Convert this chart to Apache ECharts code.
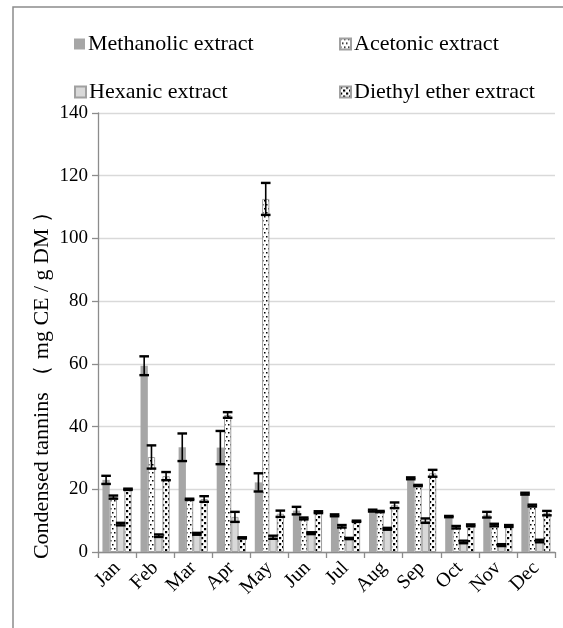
<!DOCTYPE html>
<html>
<head>
<meta charset="utf-8">
<script src="https://cdn.jsdelivr.net/npm/echarts@6/dist/echarts.min.js"></script>
<style>html,body{margin:0;padding:0;background:#fff}#c{width:563px;height:628px}</style>
</head>
<body>
<div id="c"></div>
<script>
var months = ['Jan','Feb','Mar','Apr','May','Jun','Jul','Aug','Sep','Oct','Nov','Dec'];
var seriesNames = ['Methanolic extract','Acetonic extract','Hexanic extract','Diethyl ether extract'];
var methanolic    = [23.0, 59.4, 33.4, 33.3, 22.2, 13.2, 11.7, 13.2, 23.5, 11.3, 11.9, 18.6];
var methanolicErr = [1.3, 3.0, 4.4, 5.3, 2.9, 1.2, 0.3, 0.3, 0.3, 0.2, 0.9, 0.3];
var acetonic      = [17.5, 30.3, 16.8, 43.7, 112.6, 10.7, 8.2, 12.9, 21.2, 7.9, 8.6, 14.8];
var acetonicErr   = [0.5, 3.7, 0.2, 0.9, 5.1, 0.3, 0.4, 0.2, 0.2, 0.4, 0.4, 0.3];
var hexanic       = [8.9, 5.2, 5.8, 11.2, 4.7, 6.0, 4.3, 7.4, 10.0, 3.2, 2.2, 3.5];
var hexanicErr    = [0.4, 0.4, 0.3, 1.6, 0.5, 0.3, 0.2, 0.3, 0.7, 0.4, 0.3, 0.4];
var diethyl       = [20.0, 24.2, 16.9, 4.5, 12.2, 12.7, 9.8, 14.9, 25.1, 8.5, 8.3, 12.4];
var diethylErr    = [0.2, 1.3, 0.9, 0.2, 1.0, 0.3, 0.2, 0.9, 1.1, 0.3, 0.3, 0.7];
var yTicks = [0, 20, 40, 60, 80, 100, 120, 140];

var values = [methanolic, acetonic, hexanic, diethyl];
var errors = [methanolicErr, acetonicErr, hexanicErr, diethylErr];

function makePattern(w, h, dots, size, bg) {
  var c = document.createElement('canvas');
  c.width = w; c.height = h;
  var ctx = c.getContext('2d');
  ctx.fillStyle = bg; ctx.fillRect(0, 0, w, h);
  ctx.fillStyle = '#000';
  dots.forEach(function (d) { ctx.fillRect(d[0], d[1], size, size); });
  return {image: c, repeat: 'repeat'};
}
var acetPat = makePattern(4, 8, [[0,0],[2,4]], 1.5, '#ffffff');
var dietPat = makePattern(6, 6, [[0,0],[3,3]], 2.2, '#ffffff');

var fills = ['#a6a6a6', acetPat, '#d9d9d9', dietPat];
var borders = [null, '#a0a0a0', '#a0a0a0', '#a0a0a0'];
var serif = '"Liberation Serif", "Times New Roman", serif';
var BW = 7.3;

var series = [];
seriesNames.forEach(function (n, i) {
  series.push({
    name: n, type: 'bar', barWidth: BW, barGap: '0%',
    data: values[i],
    itemStyle: {color: fills[i], borderColor: borders[i] || 'transparent', borderWidth: borders[i] ? 1 : 0},
    emphasis: {disabled: true}, z: 2
  });
});
seriesNames.forEach(function (n, i) {
  var off = (i - 1.5) * BW;
  series.push({
    name: 'err' + i, type: 'custom', z: 5, silent: true,
    data: values[i].map(function (v, k) { return [k, v, errors[i][k]]; }),
    renderItem: function (params, api) {
      var x = api.value(0), v = api.value(1), e = api.value(2);
      var top = api.coord([x, v + e]);
      var bot = api.coord([x, v - e]);
      var cx = top[0] + off;
      var hw = 4.8;
      var st = {stroke: '#000', lineWidth: 1.6};
      var cap = {stroke: '#000', lineWidth: 2.4};
      return {type: 'group', children: [
        {type: 'line', shape: {x1: cx, y1: top[1], x2: cx, y2: bot[1]}, style: st},
        {type: 'line', shape: {x1: cx - hw, y1: top[1], x2: cx + hw, y2: top[1]}, style: cap},
        {type: 'line', shape: {x1: cx - hw, y1: bot[1], x2: cx + hw, y2: bot[1]}, style: cap}
      ]};
    }
  });
});

function legendAt(name, left, top) {
  return {data: [name], left: left, top: top, itemWidth: 11, itemHeight: 11, itemGap: 0,
    textStyle: {fontFamily: serif, fontSize: 22, color: '#000', padding: [0,0,0,-2]},
    selectedMode: false, icon: 'rect', padding: 0};
}

var chart = echarts.init(document.getElementById('c'), null, {renderer: 'canvas'});
chart.setOption({
  animation: false,
  backgroundColor: '#fff',
  legend: [
    legendAt(seriesNames[0], 74, 33),
    legendAt(seriesNames[1], 339, 33),
    legendAt(seriesNames[2], 74, 81),
    legendAt(seriesNames[3], 339, 81)
  ],
  grid: {left: 98, right: 8, top: 113, bottom: 76, containLabel: false},
  xAxis: {
    type: 'category', data: months,
    axisLine: {lineStyle: {color: '#8c8c8c', width: 1.3}},
    axisTick: {show: true, length: 6, lineStyle: {color: '#8c8c8c', width: 1.3}},
    axisLabel: {rotate: 45, fontFamily: serif, fontSize: 20, color: '#000', margin: 13}
  },
  yAxis: {
    type: 'value', min: yTicks[0], max: yTicks[yTicks.length - 1], interval: 20,
    axisLine: {show: true, lineStyle: {color: '#8c8c8c', width: 1.3}},
    axisTick: {show: true, length: 6, lineStyle: {color: '#8c8c8c', width: 1.3}},
    axisLabel: {fontFamily: serif, fontSize: 19, color: '#000', margin: 10},
    splitLine: {lineStyle: {color: '#d9d9d9', width: 1.3}}
  },
  graphic: [
    {type: 'rect', shape: {x: 13, y: 7, width: 700, height: 800}, style: {fill: 'none', stroke: '#8c8c8c', lineWidth: 1.5}, silent: true},
    {type: 'text', x: 42, y: 380, rotation: Math.PI / 2,
      style: {text: 'Condensed tannins （ mg CE / g DM ）', fontFamily: serif, fontSize: 22, fill: '#000', align: 'center', verticalAlign: 'middle'}}
  ],
  series: series
});
</script>
</body>
</html>
